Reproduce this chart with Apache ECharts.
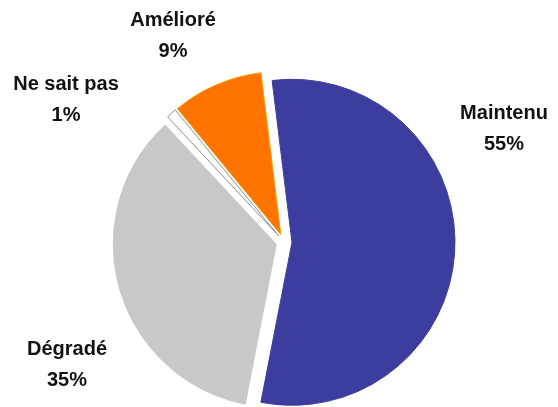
<!DOCTYPE html>
<html>
<head>
<meta charset="utf-8">
<script src="https://cdn.jsdelivr.net/npm/echarts@6/dist/echarts.min.js"></script>
<style>
html,body{margin:0;padding:0;background:#fff;}
#c{width:558px;height:407px;}
</style>
</head>
<body>
<div id="c"></div>
<script>
var categories = ['Maintenu', 'Dégradé', 'Ne sait pas', 'Amélioré'];
var values = [55, 35, 1, 9];

var colors = ['#3d3d9f', '#c8c8c8', '#ffffff', '#ff7300'];
var borders = ['#3d3d9f', '#c8c8c8', '#8c8c8c', '#f0a000'];
var labelPos = [[504, 129], [67, 365], [66, 100], [173, 36]];

var chart = echarts.init(document.getElementById('c'), null, {renderer: 'canvas'});
chart.setOption({
  animation: false,
  graphic: categories.map(function (n, i) {
    return {
      type: 'text',
      x: labelPos[i][0],
      y: labelPos[i][1],
      style: {
        text: n + '\n' + values[i] + '%',
        fontFamily: 'Liberation Sans, Arial, sans-serif',
        fontWeight: 'bold',
        fontSize: 20,
        lineHeight: 31,
        fill: '#111',
        align: 'center',
        verticalAlign: 'middle'
      }
    };
  }),
  series: [{
    type: 'pie',
    center: [284, 242],
    radius: [0, 163],
    startAngle: 97,
    clockwise: true,
    selectedMode: 'multiple',
    selectedOffset: 8,
    emphasis: {disabled: true},
    label: {show: false},
    labelLine: {show: false},
    data: categories.map(function (n, i) {
      return {
        name: n,
        value: values[i],
        selected: true,
        itemStyle: {color: colors[i], borderColor: borders[i], borderWidth: 1}
      };
    })
  }]
});
</script>
</body>
</html>
